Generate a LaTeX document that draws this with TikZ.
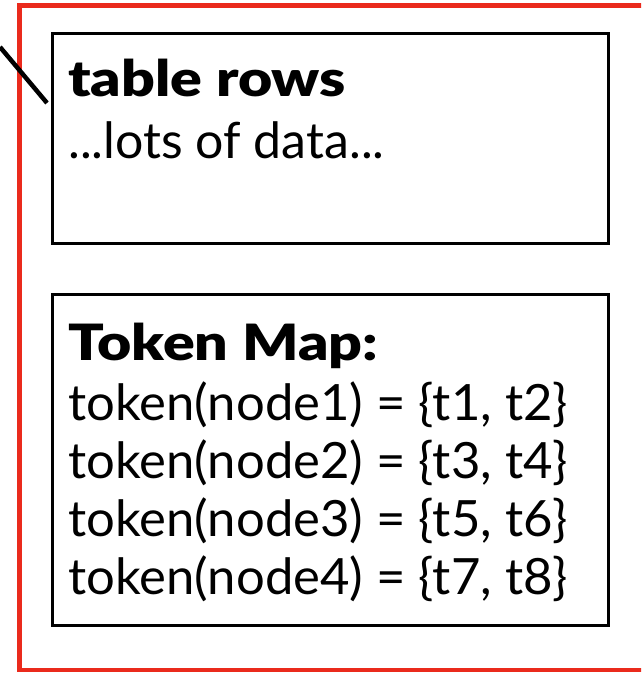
\documentclass[tikz,border=0pt]{standalone}
\usepackage{fontspec}
\setmainfont{Lato}[BoldFont={Lato Black}]
\definecolor{frame}{RGB}{234,42,28}
\tikzset{
  box/.style={draw=black, line width=3pt, inner sep=0pt},
  txt/.style={anchor=base west, inner sep=0pt, font=\fontsize{50}{58}\selectfont},
  head/.style={txt, xscale=1.18, font=\fontsize{50}{58}\selectfont\bfseries},
}
\begin{document}
\begin{tikzpicture}[x=1pt,y=-1pt]
\clip (0,0) rectangle (641,674);
\fill[white] (0,0) rectangle (641,674);
\draw[frame, line width=4.5pt] (19.5,5.3) rectangle (660,670);
\node[box, minimum width=556pt, minimum height=209pt] (rows) at (330,138.5) {};
\node[box, minimum width=556pt, minimum height=331pt] (map) at (330,459.5) {};
\coordinate (lineStart) at (0,47);
\coordinate (lineEnd) at (47,103);
\draw[line width=4.5pt] (lineStart) -- (lineEnd);
\node[head] (h1) at (68,97) {table rows};
\node[txt] (d1) at (68,158) {...lots of data...};
\node[head] (h2) at (68,360) {Token Map:};
\node[txt, xscale=1.016] (m1) at (68,420) {token(node1) = \{t1, t2\}};
\node[txt, xscale=1.016] (m2) at (68,478) {token(node2) = \{t3, t4\}};
\node[txt, xscale=1.016] (m3) at (68,536) {token(node3) = \{t5, t6\}};
\node[txt, xscale=1.016] (m4) at (68,594) {token(node4) = \{t7, t8\}};
\end{tikzpicture}
\end{document}
